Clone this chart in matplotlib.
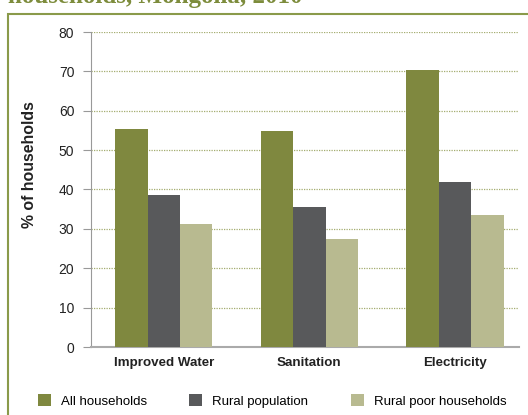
import matplotlib.pyplot as plt
import numpy as np
from matplotlib.patches import Rectangle

plt.rcParams['font.family'] = ['Liberation Sans', 'DejaVu Sans']

categories = ['Improved Water', 'Sanitation', 'Electricity']
all_households = [55.3, 54.8, 70.3]
rural_population = [38.6, 35.5, 41.9]
rural_poor = [31.2, 27.4, 33.5]
series_names = ['All households', 'Rural population', 'Rural poor households']
colors = ['#7f883f', '#58595b', '#b8ba90']

W, H = 528, 415
fig = plt.figure(figsize=(W / 100, H / 100), dpi=100)

# olive frame round the chart (runs off right and bottom)
fig.patches.append(Rectangle((8 / W, -0.05), 1.0, (H - 14) / H + 0.05,
                             transform=fig.transFigure, fill=False,
                             edgecolor='#8a9a4a', linewidth=1.5))

# title, only its lower part is in view
fig.text(8 / W, 1 - 3 / H, 'households, Mongolia, 2010', fontsize=18,
         fontweight='bold', family='Liberation Serif', color='#7d8c3c',
         va='baseline', ha='left')

ax = fig.add_axes([91 / W, 1 - 347 / H, (519 - 91) / W, (347 - 32) / H])

x = np.arange(len(categories))
bw = 0.223
for i, (vals, name, c) in enumerate(zip([all_households, rural_population, rural_poor],
                                        series_names, colors)):
    ax.bar(x + (i - 1) * bw, vals, bw, color=c, label=name, zorder=3)

ax.set_xlim(-0.5, 2.44)
ax.set_ylim(0, 80)
ax.set_yticks(range(0, 81, 10))
ax.yaxis.grid(True, linestyle=(0, (1, 1)), color='#a4ad70', linewidth=0.9, zorder=0)
ax.set_xticks(x)
ax.set_xticklabels(categories, fontweight='bold', fontsize=9.6, color='#222222')
ax.tick_params(axis='x', length=0, pad=7)
ax.tick_params(axis='y', length=6, color='#999999', labelsize=10, pad=6)
for t in ax.get_yticklabels():
    t.set_color('#222222')
for s in ['top', 'right']:
    ax.spines[s].set_visible(False)
ax.spines['left'].set_color('#999999')
ax.spines['bottom'].set_color('#aaaaaa')
ax.spines['bottom'].set_linewidth(1.5)

fig.text(30 / W, 1 - 165 / H, '% of households', rotation=90, fontweight='bold',
         fontsize=11.4, ha='center', va='center', color='#222222')

handles, labels = ax.get_legend_handles_labels()
fig.legend(handles, labels, loc='center', bbox_to_anchor=(272 / W, 1 - 401 / H),
           ncol=3, frameon=False, fontsize=9.5, handlelength=1.0, handleheight=1.0,
           columnspacing=3.2, handletextpad=0.75)

fig.savefig('out.png', dpi=100)
